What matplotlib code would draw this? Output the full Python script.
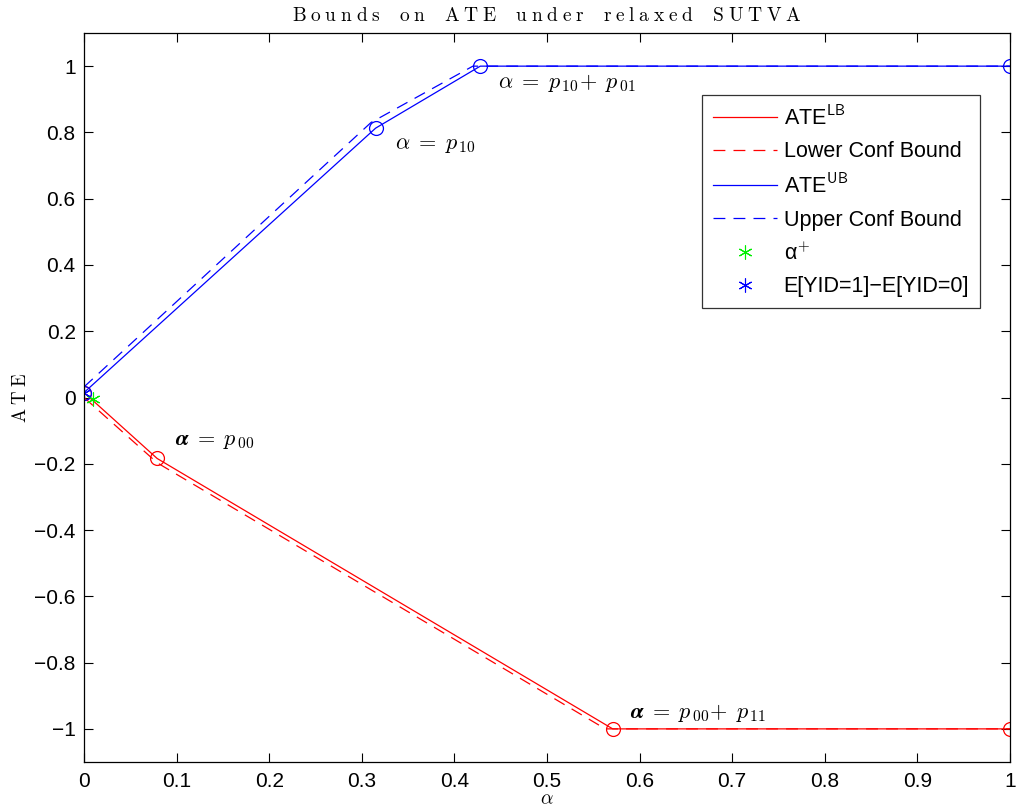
import matplotlib.pyplot as plt

plt.rcParams['font.family'] = ['Liberation Sans', 'DejaVu Sans']
plt.rcParams['mathtext.fontset'] = 'cm'

# lower bound (solid) and lower confidence bound (dashed)
lb_x = [0, 0.079, 0.571, 1.0]
lb_y = [0.015, -0.184, -1.0, -1.0]
lcb_x = [0, 0.079, 0.563, 1.0]
lcb_y = [0.0, -0.197, -1.0, -1.0]

# upper bound (solid) and upper confidence bound (dashed)
ub_x = [0, 0.315, 0.428, 1.0]
ub_y = [0.015, 0.813, 1.0, 1.0]
ucb_x = [0, 0.310, 0.420, 1.0]
ucb_y = [0.032, 0.830, 1.0, 1.0]

alpha_plus = (0.01, -0.003)
diff_means = (0.0, 0.015)


def spaced(s):
    # wide letter spacing like the original latex rendering
    words = [r'\;'.join(w) for w in s.split(' ')]
    return r'$\mathrm{' + r'\quad\,'.join(words) + '}$'


fig = plt.figure(figsize=(10.16, 8.11), dpi=100)
ax = fig.add_axes([0.0827, 0.0604, 0.9113, 0.8989])

dash = (0, (9.5, 6.5))
ax.plot(lb_x, lb_y, color='red', lw=0.9, label=r'ATE$^{\mathsf{LB}}$')
ax.plot(lcb_x, lcb_y, color='red', lw=0.9, ls=dash, label='Lower Conf Bound')
ax.plot(ub_x, ub_y, color='blue', lw=0.9, label=r'ATE$^{\mathsf{UB}}$')
ax.plot(ucb_x, ucb_y, color='blue', lw=0.9, ls=dash, label='Upper Conf Bound')
ax.plot(lb_x, lb_y, 'o', mfc='none', mec='red', ms=10, mew=0.9)
ax.plot(ub_x, ub_y, 'o', mfc='none', mec='blue', ms=10, mew=0.9)
ax.plot(*alpha_plus, color='#00ee00', ms=10, mew=0.8, ls='none',
        marker=(6, 2, 0), label='\u03b1$^{+}$')
ax.plot(*diff_means, color='blue', ms=10, mew=0.8, ls='none',
        marker=(6, 2, 0), label='E[YID=1]\u2212E[YID=0]')

fs = 16
ax.text(0.336, 0.765, r'$\alpha\;=\;p_{\,10}$', fontsize=fs, ha='left', va='center')
ax.text(0.447, 0.95, r'$\alpha\;=\;p_{\,10}\!+\;p_{\,01}$', fontsize=fs, ha='left', va='center')
ax.text(0.098, -0.13, r'$\boldsymbol{\alpha\;=\;p_{\,00}}$', fontsize=fs, ha='left', va='center')
ax.text(0.59, -0.952, r'$\boldsymbol{\alpha\;=\;p_{\,00}\!+\;p_{\,11}}$', fontsize=fs,
        ha='left', va='center')

ax.set_xlim(0, 1)
ax.set_ylim(-1.1, 1.1)
ax.set_xticks([0, 0.1, 0.2, 0.3, 0.4, 0.5, 0.6, 0.7, 0.8, 0.9, 1])
ax.set_xticklabels(['0', '0.1', '0.2', '0.3', '0.4', '0.5', '0.6', '0.7', '0.8', '0.9', '1'])
ax.set_yticks([-1, -0.8, -0.6, -0.4, -0.2, 0, 0.2, 0.4, 0.6, 0.8, 1])
ax.set_yticklabels(['\u22121', '\u22120.8', '\u22120.6', '\u22120.4', '\u22120.2', '0',
                    '0.2', '0.4', '0.6', '0.8', '1'])
ax.tick_params(direction='in', top=True, right=True, labelsize=15, length=6.5, width=0.8)
ax.tick_params(axis='x', pad=7)
ax.tick_params(axis='y', pad=6)
for s in ax.spines.values():
    s.set_linewidth(0.9)

ax.set_title(spaced('Bounds on ATE under relaxed SUTVA'), fontsize=14, pad=9)
ax.set_ylabel(spaced('ATE'), fontsize=13.5, labelpad=3)
ax.set_xlabel(r'$\alpha$', fontsize=14, labelpad=0)

leg = ax.legend(loc='upper right', bbox_to_anchor=(0.9676, 0.915), fontsize=15.5,
                fancybox=False, edgecolor='black', handlelength=3.0, handletextpad=0.3,
                labelspacing=0.55, borderpad=0.5, borderaxespad=0)
leg.get_frame().set_linewidth(0.9)

fig.savefig('out.png', dpi=100)
